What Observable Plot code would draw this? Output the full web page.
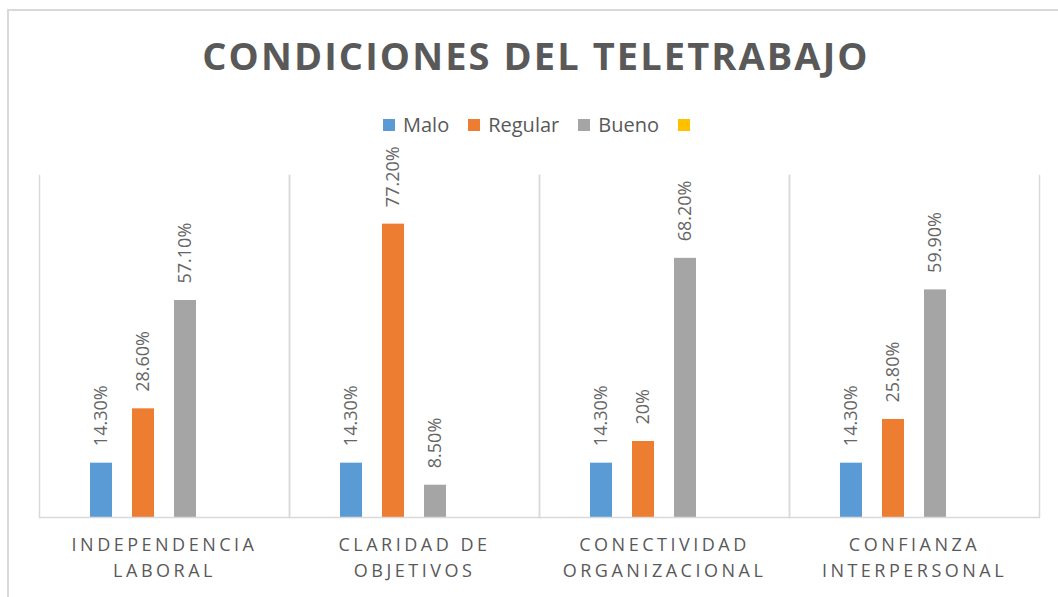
<!DOCTYPE html>
<html>
<head>
<meta charset="utf-8">
<script src="https://cdn.jsdelivr.net/npm/d3@7"></script>
<script src="https://cdn.jsdelivr.net/npm/@observablehq/plot@0.6"></script>
<style>
  html, body { margin: 0; padding: 0; background: #fff; }
  #wrap { position: relative; width: 1058px; height: 597px; overflow: hidden; font-family: "Open Sans", sans-serif; }
  #border { position: absolute; left: 7px; top: 9px; width: 1100px; height: 700px; border: 2px solid #d9d9d9; box-sizing: border-box; }
  #title { position: absolute; left: 8px; width: 1056px; top: 36px; line-height: 1; text-align: center;
           font-size: 38px; font-weight: 700; color: #595959; letter-spacing: 2.1px; white-space: nowrap; }
  #legend { position: absolute; left: 383px; top: 113px; height: 24px; display: flex; align-items: center;
            font-size: 20px; color: #595959; line-height: 1; }
  #legend .sw { width: 12px; height: 12px; display: inline-block; margin-right: 8px; }
  #legend .item { display: flex; align-items: center; margin-right: 19px; }
  #chart { position: absolute; left: 0; top: 140px; }
  #chart svg [aria-label="fx-axis tick label"] text { letter-spacing: 3.5px; }
</style>
</head>
<body>
<div id="wrap">
  <div id="border"></div>
  <div id="title">CONDICIONES DEL TELETRABAJO</div>
  <div id="legend"></div>
  <div id="chart"></div>
</div>
<script>
const categories = ["INDEPENDENCIA\nLABORAL", "CLARIDAD DE\nOBJETIVOS", "CONECTIVIDAD\nORGANIZACIONAL", "CONFIANZA\nINTERPERSONAL"];
const series = ["Malo", "Regular", "Bueno", ""];
const colors = ["#5B9BD5", "#ED7D31", "#A5A5A5", "#FFC000"];
const malo = [14.3, 14.3, 14.3, 14.3];
const regular = [28.6, 77.2, 20, 25.8];
const bueno = [57.1, 8.5, 68.2, 59.9];

const seriesValues = [malo, regular, bueno];
const data = [];
categories.forEach((c, i) => {
  seriesValues.forEach((vals, s) => {
    data.push({cat: c, series: series[s], value: vals[i]});
  });
});
const fmt = v => (Number.isInteger(v) ? v : v.toFixed(2)) + "%";

// legend
const legend = document.getElementById("legend");
series.forEach((s, i) => {
  const item = document.createElement("div");
  item.className = "item";
  const sw = document.createElement("span");
  sw.className = "sw";
  sw.style.background = colors[i];
  item.appendChild(sw);
  if (s) { const t = document.createElement("span"); t.textContent = s; item.appendChild(t); }
  legend.appendChild(item);
});

const chart = Plot.plot({
  width: 1058,
  height: 457,
  marginTop: 35,
  marginBottom: 80,
  marginLeft: 37,
  marginRight: 18,
  style: {fontFamily: "'Open Sans', sans-serif", background: "transparent", overflow: "visible"},
  fx: {domain: categories, padding: 0, label: null},
  x: {domain: series, paddingInner: 0.47, paddingOuter: 1.15, axis: null},
  y: {domain: [0, 90], axis: null},
  color: {domain: series, range: colors},
  marks: [
    Plot.frame({anchor: "left", stroke: "#d9d9d9", strokeWidth: 1.5}),
    Plot.frame({anchor: "right", stroke: "#d9d9d9", strokeWidth: 1.5}),
    Plot.barY(data, {fx: "cat", x: "series", y: "value", fill: "series"}),
    Plot.ruleY([0], {stroke: "#d9d9d9", strokeWidth: 1.5}),
    Plot.text(data, {fx: "cat", x: "series", y: "value", text: d => fmt(d.value), rotate: -90,
      textAnchor: "start", dy: -17, fontSize: 18, fill: "#666666"}),
    Plot.axisFx({anchor: "bottom", tickSize: 0, tickPadding: 15, fontSize: 18, lineHeight: 1.45,
      fill: "#595959", label: null})
  ]
});
document.getElementById("chart").appendChild(chart);
</script>
</body>
</html>
